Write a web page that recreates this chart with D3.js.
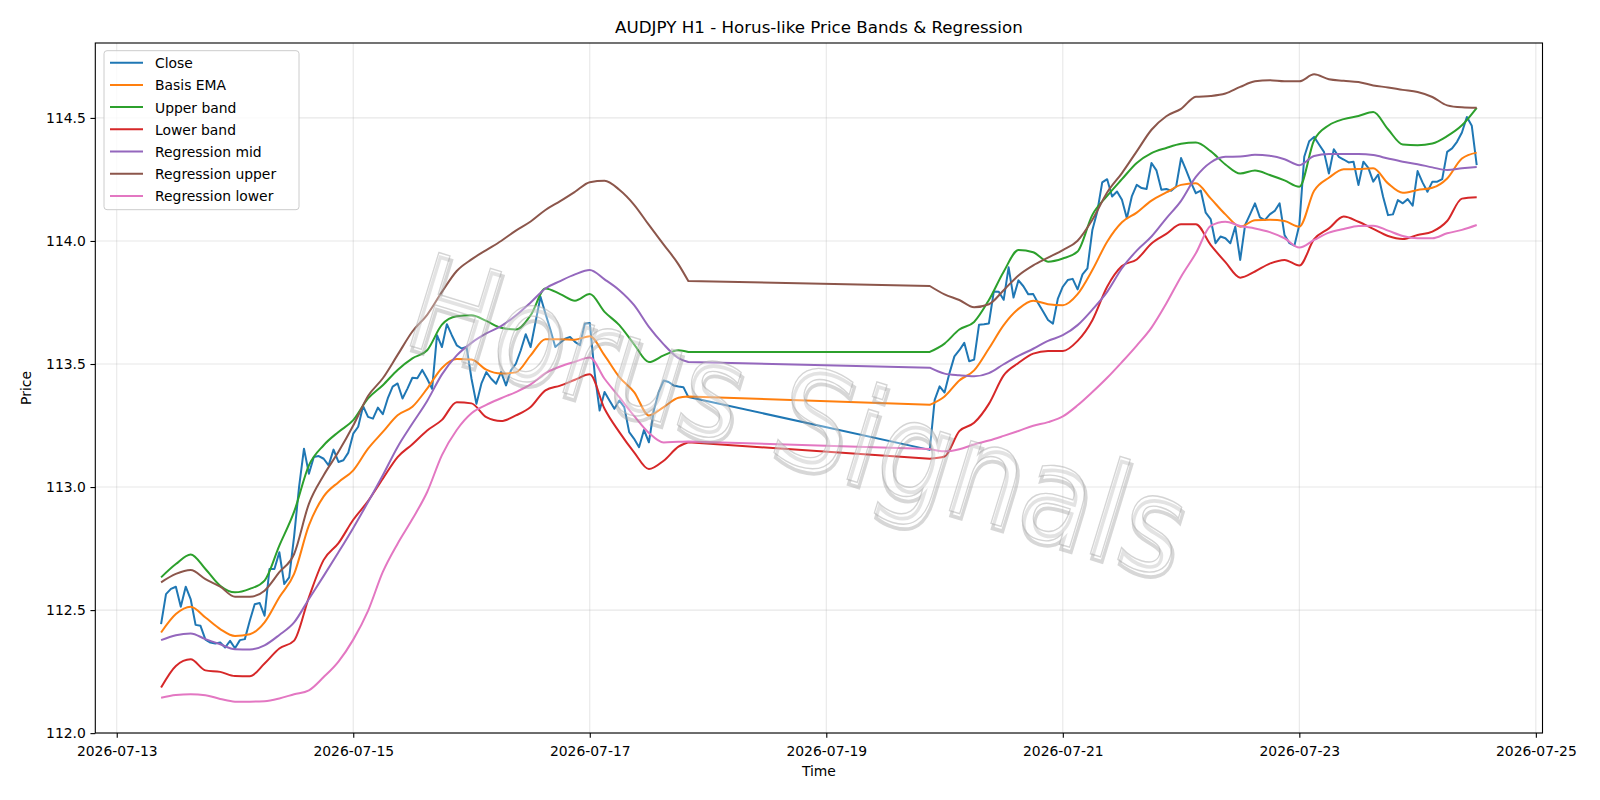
<!DOCTYPE html>
<html>
<head>
<meta charset="utf-8">
<script src="https://cdn.jsdelivr.net/npm/d3@7"></script>
<style>
  body { margin: 0; background: #fff; }
  svg { display: block; font-family: "DejaVu Sans", sans-serif; }
</style>
</head>
<body>
<div id="chart"></div>
<script>
// hourly bars: Mon 07-13 09:00 .. Fri 07-17 20:00, then Sun 07-19 21:00 .. Fri 07-24 12:00
const close1 = [112.443, 112.565, 112.586, 112.595, 112.514, 112.595, 112.545, 112.440, 112.436, 112.380,
    112.368, 112.364, 112.368, 112.348, 112.375, 112.345, 112.378, 112.382, 112.457, 112.524,
    112.529, 112.477, 112.667, 112.667, 112.735, 112.606, 112.633, 112.800, 113.000, 113.156,
    113.054, 113.122, 113.126, 113.115, 113.088, 113.152, 113.102, 113.109, 113.140, 113.217,
    113.245, 113.329, 113.285, 113.278, 113.323, 113.296, 113.360, 113.408, 113.421, 113.360,
    113.400, 113.444, 113.442, 113.476, 113.440, 113.399, 113.617, 113.569, 113.662, 113.617,
    113.576, 113.563, 113.569, 113.440, 113.338, 113.420, 113.467, 113.440, 113.420, 113.467,
    113.413, 113.474, 113.501, 113.556, 113.621, 113.569, 113.671, 113.773, 113.705, 113.640,
    113.569, 113.586, 113.603, 113.610, 113.590, 113.576, 113.664, 113.667, 113.461, 113.311,
    113.386, 113.352, 113.318, 113.352, 113.325, 113.223, 113.196, 113.162, 113.232, 113.182,
    113.311, 113.386, 113.433, 113.427, 113.413, 113.409, 113.406, 113.366];
const close2 = [113.151, 113.354, 113.409, 113.384, 113.463, 113.531, 113.556, 113.586, 113.511, 113.518,
    113.660, 113.662, 113.665, 113.795, 113.794, 113.761, 113.893, 113.770, 113.840, 113.816,
    113.783, 113.784, 113.747, 113.713, 113.679, 113.664, 113.766, 113.814, 113.841, 113.846,
    113.803, 113.864, 113.889, 114.045, 114.120, 114.238, 114.251, 114.181, 114.201, 114.167,
    114.092, 114.181, 114.228, 114.215, 114.211, 114.317, 114.287, 114.208, 114.211, 114.204,
    114.221, 114.337, 114.289, 114.238, 114.194, 114.205, 114.115, 114.089, 113.991, 114.018,
    114.011, 113.991, 114.058, 113.923, 114.065, 114.108, 114.153, 114.096, 114.085, 114.108,
    114.122, 114.153, 114.024, 113.991, 113.981, 114.065, 114.342, 114.405, 114.423, 114.392,
    114.362, 114.274, 114.373, 114.342, 114.331, 114.319, 114.322, 114.227, 114.322, 114.297,
    114.241, 114.270, 114.180, 114.105, 114.108, 114.166, 114.153, 114.170, 114.143, 114.284,
    114.238, 114.200, 114.241, 114.241, 114.251, 114.362, 114.376, 114.403, 114.441, 114.504,
    114.468, 114.308];

// smooth lines read every 3 hours (first week also at the last Friday bar)
const ema1 = [112.409, 112.484, 112.514, 112.470, 112.423, 112.395, 112.402, 112.450, 112.552, 112.647,
    112.844, 112.962, 113.020, 113.068, 113.156, 113.224, 113.292, 113.326, 113.400, 113.484,
    113.520, 113.518, 113.477, 113.461, 113.466, 113.535, 113.601, 113.601, 113.599, 113.613,
    113.535, 113.447, 113.386, 113.291, 113.325, 113.363, 113.368];
const ema2 = [113.334, 113.368, 113.433, 113.474, 113.563, 113.658, 113.724, 113.757, 113.743, 113.739,
    113.784, 113.882, 113.997, 114.076, 114.115, 114.164, 114.197, 114.228, 114.235, 114.173,
    114.108, 114.058, 114.084, 114.086, 114.081, 114.058, 114.204, 114.257, 114.291, 114.292,
    114.295, 114.234, 114.196, 114.207, 114.216, 114.254, 114.335, 114.359];
const upper1 = [112.633, 112.687, 112.726, 112.667, 112.599, 112.572, 112.586, 112.620, 112.762, 112.900,
    113.088, 113.170, 113.224, 113.272, 113.360, 113.414, 113.476, 113.523, 113.556, 113.660,
    113.694, 113.698, 113.675, 113.647, 113.640, 113.698, 113.807, 113.784, 113.757, 113.784,
    113.712, 113.658, 113.580, 113.508, 113.535, 113.556, 113.549];
const upper2 = [113.549, 113.583, 113.640, 113.671, 113.760, 113.875, 113.963, 113.954, 113.916, 113.929,
    113.957, 114.106, 114.183, 114.251, 114.317, 114.357, 114.378, 114.395, 114.400, 114.365,
    114.311, 114.274, 114.286, 114.268, 114.246, 114.220, 114.409, 114.470, 114.495, 114.508,
    114.524, 114.454, 114.392, 114.389, 114.396, 114.426, 114.470, 114.541];
const lower1 = [112.185, 112.273, 112.300, 112.255, 112.249, 112.232, 112.231, 112.283, 112.344, 112.376,
    112.552, 112.704, 112.772, 112.867, 112.943, 113.034, 113.122, 113.174, 113.230, 113.273,
    113.345, 113.340, 113.284, 113.268, 113.291, 113.325, 113.393, 113.412, 113.436, 113.458,
    113.318, 113.223, 113.141, 113.073, 113.107, 113.164, 113.182];
const lower2 = [113.115, 113.124, 113.227, 113.261, 113.338, 113.454, 113.504, 113.542, 113.553, 113.553,
    113.594, 113.678, 113.814, 113.898, 113.925, 113.990, 114.029, 114.068, 114.068, 113.984,
    113.914, 113.851, 113.876, 113.908, 113.923, 113.900, 114.007, 114.051, 114.099, 114.078,
    114.049, 114.020, 114.008, 114.024, 114.038, 114.081, 114.172, 114.178];
const regMid1 = [112.378, 112.398, 112.405, 112.382, 112.361, 112.341, 112.340, 112.357, 112.399, 112.450,
    112.545, 112.639, 112.735, 112.834, 112.939, 113.048, 113.163, 113.258, 113.350, 113.458,
    113.535, 113.586, 113.624, 113.654, 113.697, 113.750, 113.807, 113.837, 113.864, 113.882,
    113.844, 113.800, 113.739, 113.651, 113.580, 113.524, 113.508];
const regMid2 = [113.485, 113.461, 113.454, 113.450, 113.463, 113.499, 113.533, 113.562, 113.594, 113.617,
    113.658, 113.721, 113.793, 113.889, 113.961, 114.018, 114.092, 114.163, 114.260, 114.319,
    114.342, 114.343, 114.350, 114.346, 114.332, 114.308, 114.345, 114.353, 114.353, 114.353,
    114.349, 114.335, 114.322, 114.312, 114.299, 114.288, 114.295, 114.301];
const regUpper1 = [112.613, 112.647, 112.663, 112.626, 112.595, 112.554, 112.554, 112.579, 112.654, 112.728,
    112.932, 113.048, 113.143, 113.250, 113.370, 113.442, 113.537, 113.632, 113.700, 113.793,
    113.878, 113.925, 113.963, 114.000, 114.042, 114.079, 114.126, 114.162, 114.200, 114.239,
    114.245, 114.208, 114.147, 114.065, 113.985, 113.905, 113.837];
const regUpper2 = [113.817, 113.783, 113.760, 113.731, 113.743, 113.800, 113.860, 113.901, 113.932, 113.963,
    114.001, 114.086, 114.197, 114.276, 114.364, 114.452, 114.507, 114.537, 114.586, 114.589,
    114.599, 114.626, 114.649, 114.653, 114.649, 114.649, 114.677, 114.657, 114.651, 114.646,
    114.632, 114.624, 114.614, 114.605, 114.585, 114.551, 114.543, 114.541];
const regLower1 = [112.144, 112.155, 112.158, 112.154, 112.139, 112.128, 112.128, 112.130, 112.141, 112.158,
    112.174, 112.228, 112.291, 112.380, 112.497, 112.655, 112.770, 112.870, 112.980, 113.130,
    113.232, 113.300, 113.334, 113.361, 113.386, 113.417, 113.463, 113.490, 113.509, 113.526,
    113.440, 113.365, 113.289, 113.220, 113.181, 113.184, 113.185];
const regLower2 = [113.155, 113.145, 113.154, 113.173, 113.189, 113.208, 113.228, 113.249, 113.264, 113.287,
    113.332, 113.386, 113.444, 113.508, 113.575, 113.648, 113.746, 113.855, 113.950, 114.061,
    114.078, 114.061, 114.051, 114.036, 114.011, 113.973, 114.004, 114.034, 114.049, 114.061,
    114.062, 114.042, 114.020, 114.011, 114.011, 114.031, 114.045, 114.065];

const xTickLabels = ["2026-07-13", "2026-07-15", "2026-07-17", "2026-07-19", "2026-07-21", "2026-07-23", "2026-07-25"];
const yTickValues = [112.0, 112.5, 113.0, 113.5, 114.0, 114.5];

const width = 1600, height = 800;
const margin = { top: 43, right: 57.5, bottom: 67, left: 95.3 };
const innerW = width - margin.left - margin.right;
const innerH = height - margin.top - margin.bottom;

const HOUR = 3600 * 1000;
const week1Start = Date.UTC(2026, 6, 13, 9);
const week2Start = Date.UTC(2026, 6, 19, 21);
const toTime = (start, offs) => offs.map(h => new Date(start + h * HOUR));

const closeT1 = toTime(week1Start, d3.range(close1.length));
const closeT2 = toTime(week2Start, d3.range(close2.length));
const bandT1 = toTime(week1Start, d3.range(0, 106, 3).concat([107]));
const bandT2 = toTime(week2Start, d3.range(0, 112, 3));

const series = [
    { name: "Close", color: "#1f77b4", t1: closeT1, t2: closeT2, v1: close1, v2: close2, smooth: false },
    { name: "Basis EMA", color: "#ff7f0e", t1: bandT1, t2: bandT2, v1: ema1, v2: ema2, smooth: true },
    { name: "Upper band", color: "#2ca02c", t1: bandT1, t2: bandT2, v1: upper1, v2: upper2, smooth: true },
    { name: "Lower band", color: "#d62728", t1: bandT1, t2: bandT2, v1: lower1, v2: lower2, smooth: true },
    { name: "Regression mid", color: "#9467bd", t1: bandT1, t2: bandT2, v1: regMid1, v2: regMid2, smooth: true },
    { name: "Regression upper", color: "#8c564b", t1: bandT1, t2: bandT2, v1: regUpper1, v2: regUpper2, smooth: true },
    { name: "Regression lower", color: "#e377c2", t1: bandT1, t2: bandT2, v1: regLower1, v2: regLower2, smooth: true }
];

// matplotlib-style 5% margins
const tExt = [closeT1[0], closeT2[closeT2.length - 1]];
const tPad = (tExt[1] - tExt[0]) * 0.05;
const allVals = series.flatMap(s => s.v1.concat(s.v2));
const vMin = d3.min(allVals), vMax = d3.max(allVals);
const vPad = (vMax - vMin) * 0.05;

const x = d3.scaleUtc()
    .domain([new Date(+tExt[0] - tPad), new Date(+tExt[1] + tPad)])
    .range([0, innerW]);
const y = d3.scaleLinear()
    .domain([vMin - vPad, vMax + vPad])
    .range([innerH, 0]);

const parseDay = d3.utcParse("%Y-%m-%d");
const xTicks = xTickLabels.map(parseDay);

const svg = d3.select("#chart").append("svg")
    .attr("width", width)
    .attr("height", height);

svg.append("text")
    .attr("x", margin.left + innerW / 2)
    .attr("y", 33)
    .attr("text-anchor", "middle")
    .style("font-size", "16.7px")
    .text("AUDJPY H1 - Horus-like Price Bands & Regression");

const g = svg.append("g")
    .attr("transform", `translate(${margin.left},${margin.top})`);

// grid
g.append("g").selectAll("line")
    .data(xTicks)
    .enter().append("line")
    .attr("x1", d => x(d)).attr("x2", d => x(d))
    .attr("y1", 0).attr("y2", innerH)
    .attr("stroke", "#b0b0b0").attr("stroke-opacity", 0.3).attr("stroke-width", 1.1);
g.append("g").selectAll("line")
    .data(yTickValues)
    .enter().append("line")
    .attr("x1", 0).attr("x2", innerW)
    .attr("y1", d => y(d)).attr("y2", d => y(d))
    .attr("stroke", "#b0b0b0").attr("stroke-opacity", 0.3).attr("stroke-width", 1.1);

const straight = d3.line().x(d => x(d[0])).y(d => y(d[1]));
const curved = d3.line().x(d => x(d[0])).y(d => y(d[1])).curve(d3.curveMonotoneX);

series.forEach(s => {
    const gen = s.smooth ? curved : straight;
    // each trading week drawn on its own, weekend bridged by a straight segment
    const d = gen(d3.zip(s.t1, s.v1)) + gen(d3.zip(s.t2, s.v2)).replace(/^M/, "L");
    g.append("path")
        .attr("fill", "none")
        .attr("stroke", s.color)
        .attr("stroke-width", 2)
        .attr("stroke-linejoin", "round")
        .attr("d", d);
});

// axes
const xAxis = g.append("g")
    .attr("transform", `translate(0,${innerH})`)
    .call(d3.axisBottom(x).tickValues(xTicks).tickFormat(d3.utcFormat("%Y-%m-%d")).tickSize(4.86).tickPadding(8));
const yAxis = g.append("g")
    .call(d3.axisLeft(y).tickValues(yTickValues).tickFormat(d3.format(".1f")).tickSize(4.86).tickPadding(4.6));

[xAxis, yAxis].forEach(a => {
    a.select(".domain").remove();
    a.selectAll(".tick line").attr("stroke", "#000").attr("stroke-width", 1.1);
    a.selectAll(".tick text")
        .attr("fill", "#000")
        .style("font-size", "13.9px")
        .style("font-family", "'DejaVu Sans', sans-serif");
});

g.append("rect")
    .attr("width", innerW)
    .attr("height", innerH)
    .attr("fill", "none")
    .attr("stroke", "#000")
    .attr("stroke-width", 1.1);

svg.append("text")
    .attr("x", margin.left + innerW / 2)
    .attr("y", 776)
    .attr("text-anchor", "middle")
    .style("font-size", "13.9px")
    .text("Time");

svg.append("text")
    .attr("transform", `translate(31,${margin.top + innerH / 2}) rotate(-90)`)
    .attr("text-anchor", "middle")
    .style("font-size", "13.9px")
    .text("Price");

// watermark
const wm = svg.append("g")
    .attr("transform", "translate(798,416) rotate(17) scale(0.95,1.08)")
    .style("font-size", "124px")
    .attr("text-anchor", "middle")
    .attr("dominant-baseline", "central");
wm.append("text")
    .attr("x", 3).attr("y", 4)
    .attr("fill", "none")
    .attr("stroke", "#9a9a9a")
    .attr("stroke-width", 3.5)
    .attr("stroke-opacity", 0.4)
    .text("Horus Signals");
wm.append("text")
    .attr("fill", "#fff")
    .attr("fill-opacity", 0.3)
    .attr("stroke", "#aaa")
    .attr("stroke-width", 1.3)
    .attr("stroke-opacity", 0.5)
    .text("Horus Signals");

// legend
const legend = g.append("g")
    .attr("transform", "translate(8.7,7.7)");
legend.append("rect")
    .attr("width", 195)
    .attr("height", 159)
    .attr("rx", 3)
    .attr("fill", "#fff")
    .attr("fill-opacity", 0.8)
    .attr("stroke", "#cccccc")
    .attr("stroke-width", 1);
const rows = legend.selectAll(".row")
    .data(series)
    .enter().append("g")
    .attr("class", "row")
    .attr("transform", (d, i) => `translate(0,${12 + i * 22.2})`);
rows.append("line")
    .attr("x1", 6).attr("x2", 39)
    .attr("stroke", d => d.color)
    .attr("stroke-width", 2);
rows.append("text")
    .attr("x", 51)
    .attr("y", 5.5)
    .style("font-size", "13.9px")
    .text(d => d.name);
</script>
</body>
</html>
